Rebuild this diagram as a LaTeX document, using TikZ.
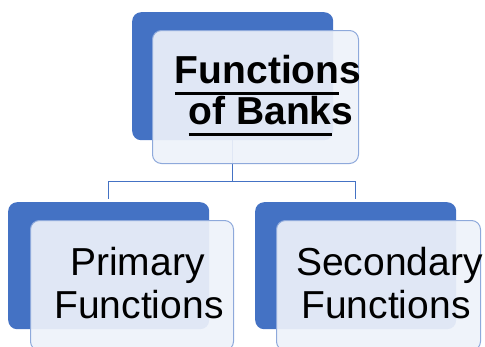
\documentclass[tikz,border=0pt]{standalone}
\usepackage{fontspec}
\setmainfont{Liberation Sans}
\usepackage{tikz}
\usetikzlibrary{calc}

\definecolor{backblue}{HTML}{4472C4}
\definecolor{frontfill}{HTML}{EEF2FA}
\definecolor{frontline}{HTML}{8EA9DB}

% thick underline, as in the title
\newcommand{\thickline}[1]{\setbox0\hbox{#1}\rlap{\vrule height -8.5pt depth 11.5pt width \wd0}\box0}

\tikzset{
	back box/.style = {fill = backblue, rounded corners = 9pt, anchor = north west, inner sep = 0pt},
	front box/.style = {fill = frontfill, fill opacity = 0.92, draw = frontline, line width = 1pt, rounded corners = 9pt, anchor = north west, inner sep = 0pt},
	title line/.style = {anchor = base, inner sep = 0pt, font = \fontsize{39}{41}\selectfont\bfseries},
	item line/.style = {anchor = base, inner sep = 0pt, font = \fontsize{39}{41}\selectfont},
	link/.style = {draw = backblue, line width = 0.9pt}
}

\begin{document}
\begin{tikzpicture}[x = 1pt, y = -1pt]
			\useasboundingbox (0,0) rectangle (485,346);
			
			% back boxes
			\node (banks back) [back box, minimum width = 201pt, minimum height = 128pt] at (132,12) {};
			\node (primary back) [back box, minimum width = 201pt, minimum height = 127pt] at (8,202) {};
			\node (secondary back) [back box, minimum width = 201pt, minimum height = 127pt] at (255,202) {};
			
			% connectors
			\coordinate (fork) at ($ (banks back.south) + (0,41) $);
			\begin{scope}[link, shorten > = 3pt]
				\draw (banks back.south) -- (fork) -| (primary back.north);
				\draw (banks back.south) -- (fork) -| (secondary back.north);
			\end{scope}
			
			% front boxes and texts
			\node (banks front) [front box, minimum width = 206pt, minimum height = 133pt] at (152,30) {};
			\node (banks line one) [title line] at (268,83) {\thickline{Function}s};
			\node (banks line two) [title line] at (271,124) {\thickline{of Bank}s};
			
			\node (primary front) [front box, minimum width = 203pt, minimum height = 130pt] at (30,220) {};
			\node (primary line one) [item line] at (137.5,275) {Primary};
			\node (primary line two) [item line] at (139,318) {Functions};
			
			\node (secondary front) [front box, minimum width = 204pt, minimum height = 130pt] at (276,220) {};
			\node (secondary line one) [item line] at (389.5,275) {Secondary};
			\node (secondary line two) [item line] at (386,318) {Functions};
		\end{tikzpicture}
\end{document}
